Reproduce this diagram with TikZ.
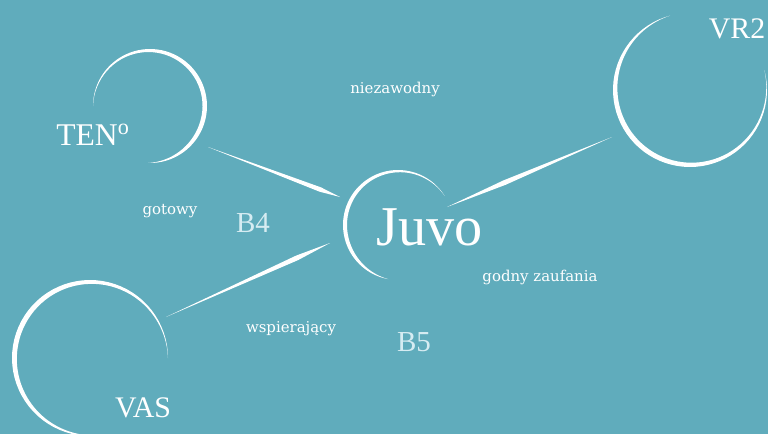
\documentclass[tikz,border=0pt]{standalone}
\usepackage{fontspec}
\setmainfont{Liberation Serif}
\newfontfamily\traitfont{DejaVu Serif}
\usetikzlibrary{calc}
\definecolor{sea}{RGB}{96,172,188}
\definecolor{mist}{RGB}{214,236,242}

% brush ring: centre, radius, start, thickest, end angle, width
\newcommand{\brusharc}[6]{%
  \fill[white, shift={(#1)}]
    plot[domain={#3}:{#5}, samples=60] ({(#2)*cos(\x)},{(#2)*sin(\x)})
    -- plot[domain={#5}:{#4}, samples=40] ({((#2)-(#6)*sin(90*(((#5)-\x)/((#5)-(#4)))))*cos(\x)},{((#2)-(#6)*sin(90*(((#5)-\x)/((#5)-(#4)))))*sin(\x)})
    -- plot[domain={#4}:{#3}, samples=40] ({((#2)-(#6)*sin(90*((\x-(#3))/((#4)-(#3)))))*cos(\x)},{((#2)-(#6)*sin(90*((\x-(#3))/((#4)-(#3)))))*sin(\x)})
    -- cycle;}
% brush stroke between two points
\newcommand{\taper}[4]{%
  \fill[white] (#1) -- ($(#1)!#3!(#2)!#4!90:(#2)$) -- (#2)
    -- ($(#1)!#3!(#2)!#4!-90:(#2)$) -- cycle;}

\begin{document}
\begin{tikzpicture}[x=0.02cm, y=0.02cm,
  brand/.style={text=white, inner sep=0pt},
  trait/.style={text=white, inner sep=0pt, font=\traitfont\fontsize{8.5}{10}\selectfont},
  grade/.style={text=mist, inner sep=0pt, font=\fontsize{16.5}{18}\selectfont}]
	\useasboundingbox (0,0) rectangle (768,434);
	\fill[sea] (0,0) rectangle (768,434);
	
	\begin{scope}
	\clip (0,0) rectangle (768,434);
	
	\coordinate (ten-c) at (150,328);
	\coordinate (juvo-c) at (398,209);
	\coordinate (vr2-c) at (690,344);
	\coordinate (vas-c) at (90,76);
	
	\brusharc{ten-c}{57}{180}{-10}{-92}{4.5}
	\brusharc{juvo-c}{55}{32}{185}{260}{4}
	\brusharc{vr2-c}{77}{105}{215}{375}{5}
	\brusharc{vas-c}{78}{0}{160}{280}{5}
	
	\coordinate (ten-out) at (208,287);
	\coordinate (juvo-w) at (340,237);
	\coordinate (juvo-ne) at (447,227);
	\coordinate (vr2-out) at (612,297);
	\coordinate (juvo-sw) at (330,191);
	\coordinate (vas-out) at (166,117);
	
	\taper{ten-out}{juvo-w}{0.85}{1.3pt}
	\taper{juvo-ne}{vr2-out}{0.35}{1.4pt}
	\taper{juvo-sw}{vas-out}{0.2}{1.4pt}
	\end{scope}
	
	\node[brand, font=\fontsize{32}{34}\selectfont] (juvo) at (430,207) {Juvo};
	\node[brand, font=\fontsize{18}{20}\selectfont] (ten) at (93,299) {TEN\textsuperscript{o}};
	\node[brand, font=\fontsize{17}{19}\selectfont] (vr2) at (737,405) {VR2};
	\node[brand, font=\fontsize{17}{19}\selectfont] (vas) at (143,26) {VAS};
	
	\node[grade] (b4) at (253,211) {B4};
	\node[grade] (b5) at (414,92) {B5};
	
	\node[trait] (niezawodny) at (395,345) {niezawodny};
	\node[trait] (gotowy) at (170,223) {gotowy};
	\node[trait] (zaufania) at (540,157) {godny zaufania};
	\node[trait] (wspierajacy) at (291,105) {wspierający};
	
\end{tikzpicture}
\end{document}
